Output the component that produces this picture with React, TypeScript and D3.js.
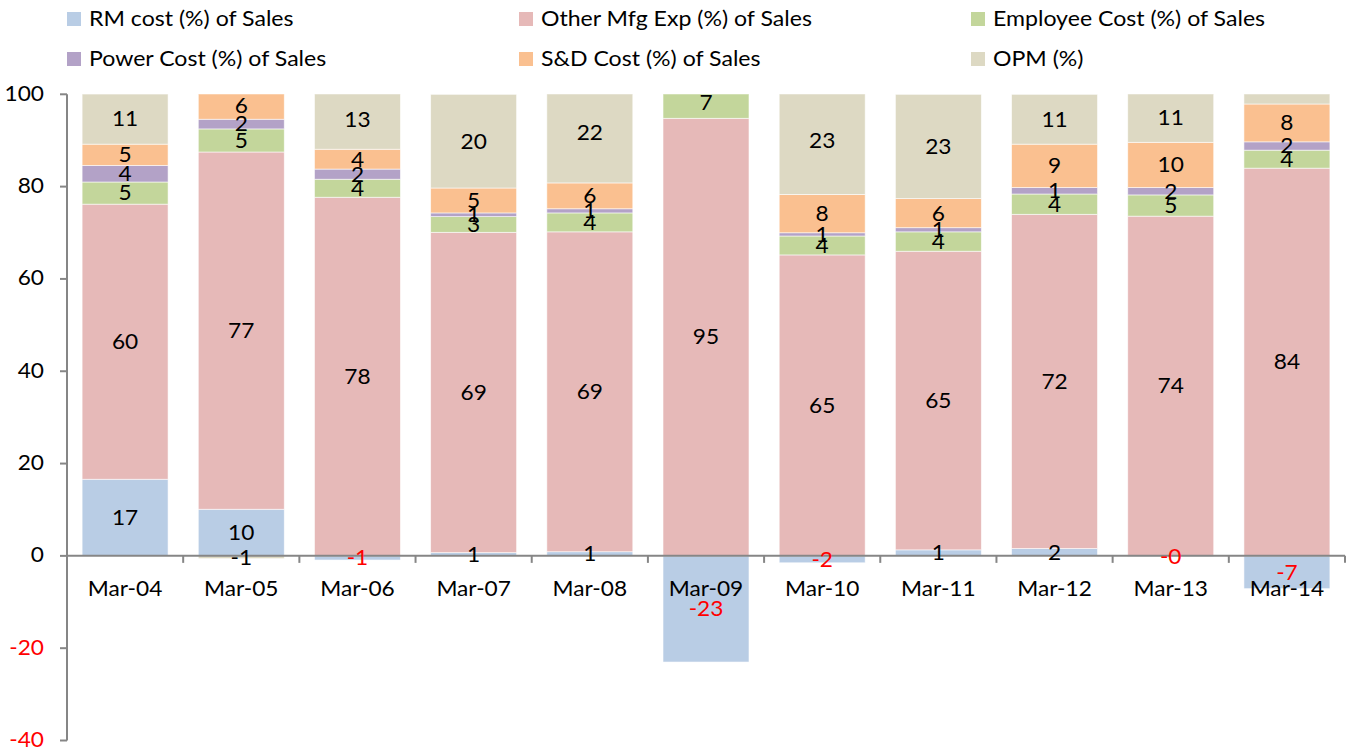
import React from "react";
import * as d3 from "d3";

const categories = ["Mar-04", "Mar-05", "Mar-06", "Mar-07", "Mar-08", "Mar-09", "Mar-10", "Mar-11", "Mar-12", "Mar-13", "Mar-14"];
const rmCost = [16.6, 10.1, -0.9, 0.7, 0.9, -23.0, -1.5, 1.3, 1.6, -0.2, -7.1];
const otherMfg = [59.6, 77.4, 77.7, 69.4, 69.3, 94.8, 65.2, 64.7, 72.4, 73.6, 84.0];
const employeeCost = [4.8, 5.0, 3.9, 3.4, 4.1, 6.6, 4.1, 4.2, 4.4, 4.6, 3.9];
const powerCost = [3.6, 2.1, 2.2, 0.8, 0.9, 2.0, 0.7, 0.9, 1.4, 1.6, 1.8];
const sdCost = [4.6, 5.9, 4.3, 5.4, 5.6, 8.0, 8.3, 6.3, 9.4, 9.8, 8.2];
const opm = [10.9, -0.6, 12.8, 20.3, 21.6, 11.6, 23.2, 22.6, 10.8, 10.6, 9.0];

const seriesNames = ["RM cost (%) of Sales", "Other Mfg Exp (%) of Sales", "Employee Cost (%) of Sales", "Power Cost (%) of Sales", "S&D Cost (%) of Sales", "OPM (%)"];
const seriesKeys = ["rm", "other", "emp", "power", "sd", "opm"];
const seriesColors = ["#B9CDE5", "#E6B9B8", "#C3D69B", "#B3A2C7", "#FAC090", "#DDD9C3"];
const yTicks = [-40, -20, 0, 20, 40, 60, 80, 100];

const W = 1349;
const H = 751;
const FONT = "Lato, 'Open Sans', sans-serif";
const FS = 21;
const SX = 1.08;

function T({ x, y, children, fill = "#000", anchor = "middle", fs = FS, sx = SX }: any) {
  return (
    <text
      transform={`translate(${x},${y}) scale(${sx},1)`}
      textAnchor={anchor}
      dy="0.35em"
      fill={fill}
      fontFamily={FONT}
      fontSize={fs}
    >
      {children}
    </text>
  );
}

export default function App() {
  const table = categories.map((c, i) => ({
    cat: c,
    rm: rmCost[i],
    other: otherMfg[i],
    emp: employeeCost[i],
    power: powerCost[i],
    sd: sdCost[i],
    opm: opm[i],
  }));
  const stack = d3.stack<any>().keys(seriesKeys).offset(d3.stackOffsetDiverging);
  const layers = stack(table);

  const left = 67;
  const right = 1345;
  const y = d3.scaleLinear().domain([-40, 100]).range([740.5, 94.3]);
  const x = d3.scaleBand<string>().domain(categories).range([left, right]).paddingInner(0.26).paddingOuter(0.13);
  const step = x.step();
  const y0 = y(0);

  const legendCols = [67, 519, 971];
  const legendRows = [19, 59];

  return (
    <svg width={W} height={H} style={{ position: "absolute", left: 0, top: 0, background: "#fff" }}>
      <defs>
        <clipPath id="plot">
          <rect x={left} y={y(100)} width={right - left + 5} height={y(-40) - y(100)} />
        </clipPath>
      </defs>
      {/* legend */}
      {seriesNames.map((name, i) => {
        const cx = legendCols[i % 3];
        const cy = legendRows[Math.floor(i / 3)];
        return (
          <g key={name}>
            <rect x={cx} y={cy - 7} width={14} height={14} fill={seriesColors[i]} />
            <T x={cx + 22} y={cy} anchor="start" sx={1.1}>{name}</T>
          </g>
        );
      })}
      {/* bars */}
      <g clipPath="url(#plot)">
        {layers.map((layer, si) =>
          layer.map((d, i) => (
            <rect
              key={`${si}-${i}`}
              x={x(categories[i])}
              width={x.bandwidth()}
              y={y(Math.max(d[0], d[1]))}
              height={Math.abs(y(d[0]) - y(d[1]))}
              fill={seriesColors[si]}
              stroke="#fff"
              strokeWidth={0.8}
              strokeOpacity={0.7}
            />
          ))
        )}
      </g>
      {/* axes */}
      <line x1={left} x2={left} y1={y(100)} y2={y(-40)} stroke="#868686" strokeWidth={2} />
      {yTicks.map((t) => (
        <g key={t}>
          <line x1={left - 7} x2={left} y1={y(t)} y2={y(t)} stroke="#868686" strokeWidth={2} />
          <T x={left - 23} y={y(t) - 1} anchor="end" fill={t < 0 ? "#FF0000" : "#000"}>{String(t)}</T>
        </g>
      ))}
      <line x1={left} x2={right} y1={y0} y2={y0} stroke="#868686" strokeWidth={2} />
      {d3.range(categories.length + 1).map((k) => (
        <line key={k} x1={left + k * step} x2={left + k * step} y1={y0} y2={y0 + 7} stroke="#868686" strokeWidth={2} />
      ))}
      {categories.map((c) => (
        <T key={c} x={(x(c) as number) + x.bandwidth() / 2} y={589}>{c}</T>
      ))}
      {/* data labels */}
      {layers.map((layer, si) =>
        layer.map((d, i) => {
          const v = (table[i] as any)[seriesKeys[si]] as number;
          const mid = (d[0] + d[1]) / 2;
          if (mid > 100 || mid < -40) return null;
          const fill = si === 0 && v < 0 ? "#FF0000" : "#000";
          return (
            <T key={`l${si}-${i}`} x={(x(categories[i]) as number) + x.bandwidth() / 2} y={y(mid)} fill={fill}>
              {v.toFixed(0)}
            </T>
          );
        })
      )}
    </svg>
  );
}
